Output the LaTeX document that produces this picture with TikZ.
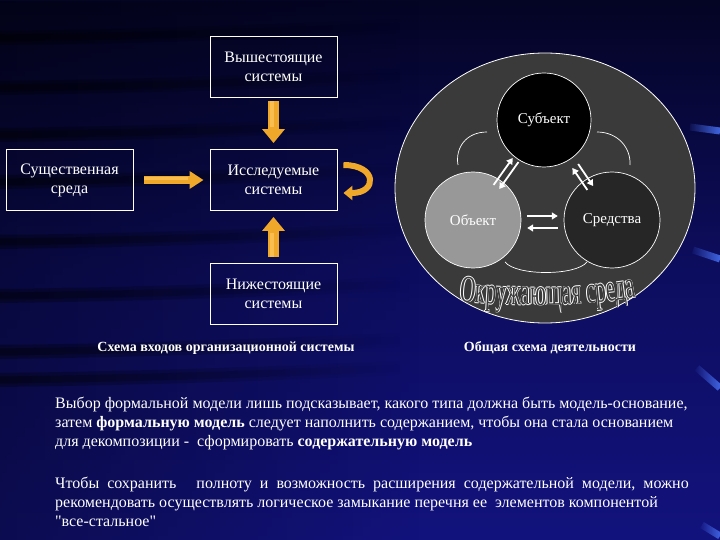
\documentclass[tikz,border=0pt]{standalone}
\usepackage{fontspec}
\setmainfont{Liberation Serif}
\newfontfamily\envfont[FakeStretch=0.56]{Liberation Serif}
\newfontfamily\qfont[Ligatures=TeXOff]{Liberation Serif}
\usetikzlibrary{arrows.meta,calc,decorations.text,fadings,shapes.geometric}
\definecolor{bgdark}{RGB}{4,4,36}
\definecolor{bgmid}{RGB}{13,13,95}
\definecolor{bglight}{RGB}{18,18,125}
\definecolor{arrorange}{RGB}{240,168,42}
\definecolor{arrlight}{RGB}{250,190,80}
\definecolor{envgray}{RGB}{58,58,58}
\definecolor{objgray}{RGB}{152,152,152}
\definecolor{sredgray}{RGB}{38,38,38}
\definecolor{streak}{RGB}{70,110,240}
\begin{document}
\begin{tikzpicture}[x=1pt,y=-1pt,
  sysbox/.style={draw=white, line width=0.9pt, minimum width=127pt, minimum height=61pt,
    align=center, text=white, font=\fontsize{16}{19}\selectfont, inner sep=0pt},
  blockarrow/.style={draw=arrorange, line width=11pt, -{Triangle[length=14pt,width=22pt]}},
  arrowshine/.style={draw=arrlight, line width=4pt},
  curvearrow/.style={draw=arrorange, line width=6pt, -{Triangle[length=9pt,width=14pt]}},
  circnode/.style={circle, draw=white, line width=0.7pt, text=white, inner sep=0pt,
    font=\fontsize{15}{17}\selectfont},
  thinarrow/.style={draw=white, line width=1.8pt, -{Triangle[length=6pt,width=7pt]}},
  thinarc/.style={draw=white, line width=0.7pt},
  caption/.style={text=white, font=\bfseries\fontsize{14}{16}\selectfont, inner sep=0pt},
  bodytext/.style={text=white, font=\fontsize{16}{19}\selectfont, align=left, inner sep=0pt},
  darkstreak/.style={draw=black, line width=#1, opacity=0.33, path fading=east},
  envtext/.style={decorate, decoration={text along path, text align=center,
    text={|\envfont\fontsize{38}{38}\selectfont\color{#1}|Окружающая среда}}}
]
\useasboundingbox (0,0) rectangle (720,540);
% background
\shade[top color=bgdark, bottom color=bglight, middle color=bgmid] (0,0) rectangle (720,540);
\fill[black, opacity=0.35, path fading=east] (0,0) rectangle (420,540);
\foreach \yy in {38,88,135,182,242,296,352,380} {
  \draw[darkstreak=14pt] (0,\yy) .. controls (150,\yy-2) and (260,\yy-6) .. (400,\yy-12);
  \draw[darkstreak=7pt] (0,\yy) .. controls (150,\yy-2) and (260,\yy-6) .. (400,\yy-12);
}
\draw[streak, line width=7pt, path fading=west] (690,127) -- (720,131);
\draw[streak, line width=7pt, path fading=west] (693,250) -- (720,259);
\draw[streak, line width=7pt, path fading=west] (697,368) -- (720,388);
\draw[streak, line width=7pt, path fading=west] (702,525) -- (720,536);

% left diagram
\node[sysbox] (top) at (273.5,66.5) {Вышестоящие\\системы};
\node[sysbox] (env) at (69.5,180) {Существенная\\среда};
\node[sysbox] (mid) at (273.5,180) {Исследуемые\\системы};
\node[sysbox] (bot) at (273.5,294) {Нижестоящие\\системы};
\draw[blockarrow, shorten <=4pt, shorten >=6pt] (top.south) -- (mid.north);
\draw[arrowshine, shorten <=4pt, shorten >=22pt] ([xshift=-1.5pt]top.south) -- ([xshift=-1.5pt]mid.north);
\draw[blockarrow, line width=8pt, -{Triangle[length=14pt,width=17pt]}, shorten <=11pt, shorten >=6pt] (env.east) -- (mid.west);
\draw[arrowshine, line width=3pt, shorten <=11pt, shorten >=22pt] ([yshift=1pt]env.east) -- ([yshift=1pt]mid.west);
\draw[blockarrow, shorten <=6pt, shorten >=6pt] (bot.north) -- (mid.south);
\draw[arrowshine, shorten <=6pt, shorten >=22pt] ([xshift=-1.5pt]bot.north) -- ([xshift=-1.5pt]mid.south);
\draw[curvearrow] ([shift={(6,-15)}]mid.east) .. controls +(34,0) and +(34,0) .. ([shift={(6,13)}]mid.east);
\node[caption] (cap1) at (226,348) {Схема входов организационной системы};

% right diagram
\node[ellipse, draw=white, line width=0.8pt, fill=envgray, minimum width=300pt, minimum height=270pt] (envc) at (545,188) {};
\node[circnode, fill=black, minimum size=94pt] (subj) at (544,120) {\raisebox{-3pt}{Субъект}};
\node[circnode, fill=objgray, minimum size=96pt] (obj) at (473,220) {Объект};
\node[circnode, fill=sredgray, minimum size=96pt] (sred) at (612,220) {Средства};

\draw[thinarc] (487,132) .. controls (466,132) and (455,148) .. (458,165);
\draw[thinarc] (597,132) .. controls (618,132) and (631,148) .. (630,165);
\draw[thinarc] (505,262) .. controls (516,276) and (576,276) .. (587,262);

\coordinate (so1) at ($(obj)!0.33!(subj)$);
\coordinate (so2) at ($(obj)!0.60!(subj)$);
\draw[thinarrow] ($(so1)!3.5pt!90:(so2)$) -- ($(so2)!3.5pt!-90:(so1)$);
\draw[thinarrow] ($(so2)!3.5pt!90:(so1)$) -- ($(so1)!3.5pt!-90:(so2)$);
\coordinate (ss1) at ($(subj)!0.46!(sred)$);
\coordinate (ss2) at ($(subj)!0.68!(sred)$);
\draw[thinarrow] ($(ss2)!3.5pt!90:(ss1)$) -- ($(ss1)!3.5pt!-90:(ss2)$);
\draw[thinarrow] ($(ss1)!3.5pt!90:(ss2)$) -- ($(ss2)!3.5pt!-90:(ss1)$);
\coordinate (os1) at ($(obj)!0.39!(sred)$);
\coordinate (os2) at ($(obj)!0.61!(sred)$);
\draw[thinarrow] ([yshift=4pt]os1) -- ([yshift=4pt]os2);
\draw[thinarrow] ([yshift=-8pt]os2) -- ([yshift=-8pt]os1);

\foreach \dx/\dy in {0.6/0,-0.6/0,0/0.6,0/-0.6} {
  \path[envtext=white, xshift=\dx pt, yshift=\dy pt] (458,301) .. controls (510,307) and (585,307) .. (638,297);
}
\path[envtext=envgray] (458,301) .. controls (510,307) and (585,307) .. (638,297);
\node[caption] (cap2) at (550,348) {Общая схема деятельности};

% text
\node[bodytext, anchor=north west] (p1) at (55,397) {Выбор формальной модели лишь подсказывает, какого типа должна быть модель-основание,\\
затем \textbf{формальную модель} следует наполнить содержанием, чтобы она стала основанием\\
для декомпозиции -\ \ сформировать \textbf{содержательную модель}};
\node[bodytext, anchor=north west] (p2) at (55,477) {Чтобы\ \ сохранить\ \ \ \ \ полноту\ \ и\ \ возможность\ \ расширения\ \ содержательной\ \ модели,\ \ можно\\
рекомендовать осуществлять логическое замыкание перечня ее\ \ элементов компонентой\\
{\qfont"}все-стальное{\qfont"}};
\end{tikzpicture}
\end{document}
